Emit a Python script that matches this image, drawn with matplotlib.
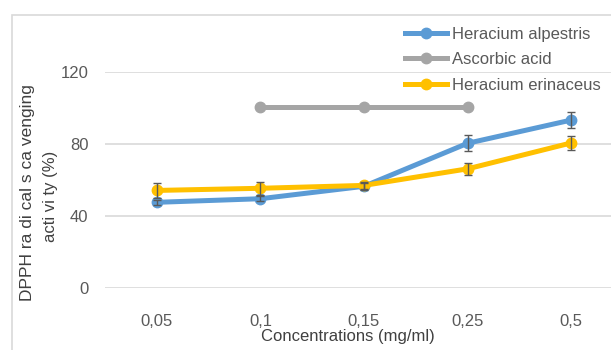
import matplotlib
matplotlib.use("Agg")
import matplotlib.pyplot as plt
from matplotlib.patches import Rectangle

plt.rcParams['font.family'] = ['Liberation Sans', 'DejaVu Sans']

concentrations = ["0,05", "0,1", "0,15", "0,25", "0,5"]
alpestris = [47.6, 49.6, 56.5, 80.4, 93.3]
alpestris_err = [1.5, 1.5, 2.0, 4.5, 4.5]
ascorbic = [None, 100.5, 100.5, 100.5, None]
erinaceus = [54.2, 55.4, 57.0, 66.2, 80.6]
erinaceus_err = [4.0, 3.6, 2.0, 3.5, 4.0]
y_ticks = [0, 40, 80, 120]

W, H = 611, 350
fig = plt.figure(figsize=(W / 100, H / 100), dpi=100)
fig.patches.append(Rectangle((12 / W, -0.1), 1.2, 1.1 - 15 / H,
                             transform=fig.transFigure, fill=False,
                             edgecolor='#D9D9D9', linewidth=1.2, zorder=0))

ax = fig.add_axes([105 / W, (H - 288) / H, (623 - 105) / W, (288 - 72) / H])
ax.set_xlim(-0.5, 4.5)
ax.set_ylim(0, 120)
for s in ax.spines.values():
    s.set_visible(False)
ax.set_yticks(y_ticks)
ax.yaxis.grid(True, color='#D9D9D9', linewidth=1.2)
ax.set_axisbelow(True)
ax.tick_params(length=0, labelsize=12, labelcolor='#595959')
ax.tick_params(axis='y', pad=12)
ax.tick_params(axis='x', pad=19)
x = list(range(len(concentrations)))
ax.set_xticks(x)
ax.set_xticklabels(concentrations)

blue, grey, gold = '#5B9BD5', '#A5A5A5', '#FFC000'
lw, ms = 3.6, 7.5

ax_x = [i for i, v in zip(x, ascorbic) if v is not None]
ax_y = [v for v in ascorbic if v is not None]
ax.plot(ax_x, ax_y, color=grey, lw=lw, marker='o', ms=ms, clip_on=False,
        label='Ascorbic acid', zorder=3)
ax.plot(x, alpestris, color=blue, lw=lw, marker='o', ms=ms, clip_on=False,
        label='Heracium alpestris', zorder=4)
ax.plot(x, erinaceus, color=gold, lw=lw, marker='o', ms=ms, clip_on=False,
        label='Heracium erinaceus', zorder=5)
ax.errorbar(x, alpestris, yerr=alpestris_err, fmt='none', ecolor='#595959',
            elinewidth=1, capsize=3, capthick=1, zorder=6, clip_on=False)
ax.errorbar(x, erinaceus, yerr=erinaceus_err, fmt='none', ecolor='#595959',
            elinewidth=1, capsize=3, capthick=1, zorder=6, clip_on=False)

handles, labels = ax.get_legend_handles_labels()
order = [1, 0, 2]
fig.legend([handles[i] for i in order], [labels[i] for i in order],
           loc='upper left', bbox_to_anchor=(405 / W, 1 - 27 / H),
           frameon=False, borderpad=0, borderaxespad=0, fontsize=12,
           handlelength=2.5, handletextpad=0.3, labelspacing=0.62,
           labelcolor='#595959')

fig.text(28 / W, 1 - 193 / H, 'DPPH ra di cal s ca venging', rotation=90,
         ha='center', va='center', fontsize=12.5, color='#404040')
fig.text(50 / W, 1 - 196 / H, 'acti vi ty (%)', rotation=90,
         ha='center', va='center', fontsize=12, color='#404040')
fig.text(348 / W, 1 - 336 / H, 'Concentrations (mg/ml)', ha='center',
         va='center', fontsize=12, color='#404040')

fig.savefig('out.png', dpi=100)
